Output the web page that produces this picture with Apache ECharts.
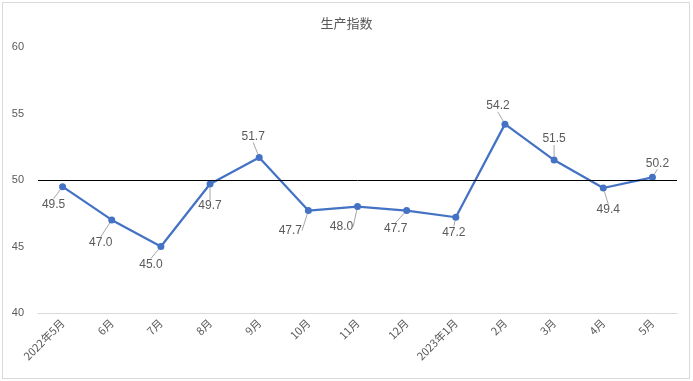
<!DOCTYPE html>
<html><head><meta charset="utf-8">
<script src="https://cdn.jsdelivr.net/npm/echarts@6/dist/echarts.min.js"></script>
<style>
html,body{margin:0;padding:0;background:#fff;}
#frame{position:absolute;left:2px;top:2px;width:688px;height:377px;border:1px solid #d9d9d9;box-sizing:border-box;}
#c{position:absolute;left:0;top:0;width:693px;height:381px;}
</style></head>
<body>
<div id="frame"></div>
<div id="c"></div>
<script>
const title = '生产指数';
const categories = ['2022年5月','6月','7月','8月','9月','10月','11月','12月','2023年1月','2月','3月','4月','5月'];
const values = [49.5, 47.0, 45.0, 49.7, 51.7, 47.7, 48.0, 47.7, 47.2, 54.2, 51.5, 49.4, 50.2];
const referenceLevel = 50;
const yTicks = {min: 40, max: 60, interval: 5};

// label offsets (px) relative to each point - layout only
const labelOffsets = [[-9,18],[-11,23],[-10,18],[0,22],[-6,-21],[-18,20],[-16,20],[-11,18],[-2,15],[-7,-18],[0,-21],[5,22],[5,-14]];

const chart = echarts.init(document.getElementById('c'), null, {renderer:'canvas'});
chart.setOption({
  backgroundColor: 'transparent',
  animation: false,
  title: {text: title, left: 'center', top: 12, textStyle: {fontSize: 13, fontWeight: 'normal', color: '#595959', fontFamily: 'Noto Sans CJK SC'}},
  grid: {left: 38, right: 16, top: 47, bottom: 68},
  xAxis: {
    type: 'category', data: categories, boundaryGap: true,
    axisLine: {lineStyle: {color: '#d9d9d9', width: 1}},
    axisTick: {show: false},
    axisLabel: {rotate: 45, color: '#595959', fontSize: 11, margin: 8, interval: 0, fontFamily: 'Noto Sans CJK SC'}
  },
  yAxis: {
    type: 'value', min: yTicks.min, max: yTicks.max, interval: yTicks.interval,
    axisLine: {show: false}, axisTick: {show: false}, splitLine: {show: false},
    axisLabel: {color: '#595959', fontSize: 11, margin: 14, fontFamily: 'Liberation Sans'}
  },
  series: [{
    type: 'line', data: values,
    symbol: 'circle', symbolSize: 7,
    lineStyle: {color: '#4472C4', width: 2.25},
    itemStyle: {color: '#4472C4'},
    label: {show: true, position: 'inside', color: '#595959', fontSize: 12, fontFamily: 'Liberation Sans',
      formatter: p => p.value.toFixed(1)},
    labelLine: {show: true, lineStyle: {color: '#a6a6a6', width: 1}},
    labelLayout: function (p) {
      const o = labelOffsets[p.dataIndex];
      return {dx: o[0], dy: o[1]};
    },
    markLine: {
      silent: true, symbol: 'none', label: {show: false},
      lineStyle: {color: '#000', width: 1, type: 'solid'},
      data: [{yAxis: referenceLevel}]
    },
    z: 3
  }]
});
</script>
</body></html>
